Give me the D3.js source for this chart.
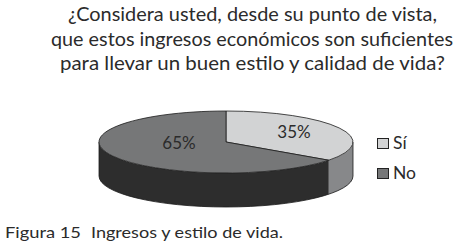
<!DOCTYPE html>
<html><head><meta charset="utf-8">
<script src="https://cdn.jsdelivr.net/npm/d3@7"></script>
<style>html,body{margin:0;padding:0;background:#fff}svg{display:block}text{font-family:Lato,"Noto Sans",sans-serif;fill:#2b2b2b}</style>
</head><body><svg id="c" width="465" height="246"></svg>
<script>
const categories = ["Sí", "No"];
const values = [35, 65];
const topColors = ["#d2d3d4", "#767778"];
const sideColors = ["#87888a", "#2d2d2d"];
const titleLines = ["¿Considera usted, desde su punto de vista,", "que estos ingresos económicos son suficientes", "para llevar un buen estilo y calidad de vida?"];
const caption = ["Figura 15", "Ingresos y estilo de vida."];

const svg = d3.select("#c");
const cx = 226, cy = 142, rx = 127, ry = 31, depth = 34;
const pie = d3.pie().sort(null).value(d => d)(values);
const pt = (a, dy = 0) => [cx + rx * Math.sin(a), cy - ry * Math.cos(a) + dy];

const sides = svg.append("g");
pie.forEach((s, i) => {
  const a0 = Math.max(s.startAngle, Math.PI / 2), a1 = Math.min(s.endAngle, 3 * Math.PI / 2);
  if (a1 <= a0) return;
  const A = pt(a0), B = pt(a1), C = pt(a1, depth), D = pt(a0, depth);
  const arc = (to, sweep) => `A${rx},${ry} 0 0 ${sweep} ${to[0]},${to[1]}`;
  sides.append("path")
    .attr("d", `M${A}${arc(B, 1)}L${C}${arc(D, 0)}Z`)
    .attr("fill", sideColors[i]);
});
sides.append("path")
  .attr("d", `M${pt(Math.PI/2)}L${pt(Math.PI/2, depth)}A${rx},${ry} 0 0 1 ${pt(3*Math.PI/2, depth)}L${pt(3*Math.PI/2)}`)
  .attr("fill", "none").attr("stroke", "#1c1c1c").attr("stroke-width", 0.8);

const arcGen = d3.arc().innerRadius(0).outerRadius(rx);
svg.append("g").attr("transform", `translate(${cx},${cy}) scale(1,${ry / rx})`)
  .selectAll("path").data(pie).join("path")
  .attr("d", arcGen).attr("fill", (d, i) => topColors[i])
  .attr("stroke", "#1c1c1c").attr("stroke-width", 0.8).attr("vector-effect", "non-scaling-stroke");

const pctPos = [[294, 138], [179, 149]];
svg.append("g").selectAll("text").data(values).join("text")
  .attr("x", (d, i) => pctPos[i][0]).attr("y", (d, i) => pctPos[i][1])
  .attr("text-anchor", "middle").attr("font-size", 17).text(d => d + "%");

const legendY = d3.scalePoint().domain(categories).range([138, 168]);
const leg = svg.append("g").selectAll("g").data(categories).join("g");
leg.append("rect").attr("x", 377.5).attr("y", d => legendY(d) + .5).attr("width", 11).attr("height", 10)
  .attr("fill", (d, i) => topColors[i]).attr("stroke", "#222").attr("stroke-width", 1);
leg.append("text").attr("x", 393).attr("y", d => legendY(d) + 11).attr("font-size", 17.5).text(d => d);

const titleGeom = [[68, 369, 21], [51, 402, 46], [60, 385, 70]];
svg.append("g").selectAll("text").data(titleLines).join("text")
  .attr("x", (d, i) => titleGeom[i][0]).attr("y", (d, i) => titleGeom[i][2])
  .attr("textLength", (d, i) => titleGeom[i][1]).attr("lengthAdjust", "spacingAndGlyphs")
  .attr("font-size", 19).text(d => d);

svg.append("text").attr("x", 5).attr("y", 238).attr("font-size", 16).attr("textLength", 76).attr("lengthAdjust", "spacingAndGlyphs").text(caption[0]);
svg.append("text").attr("x", 91).attr("y", 238).attr("font-size", 16).attr("textLength", 192).attr("lengthAdjust", "spacingAndGlyphs").text(caption[1]);
</script></body></html>
